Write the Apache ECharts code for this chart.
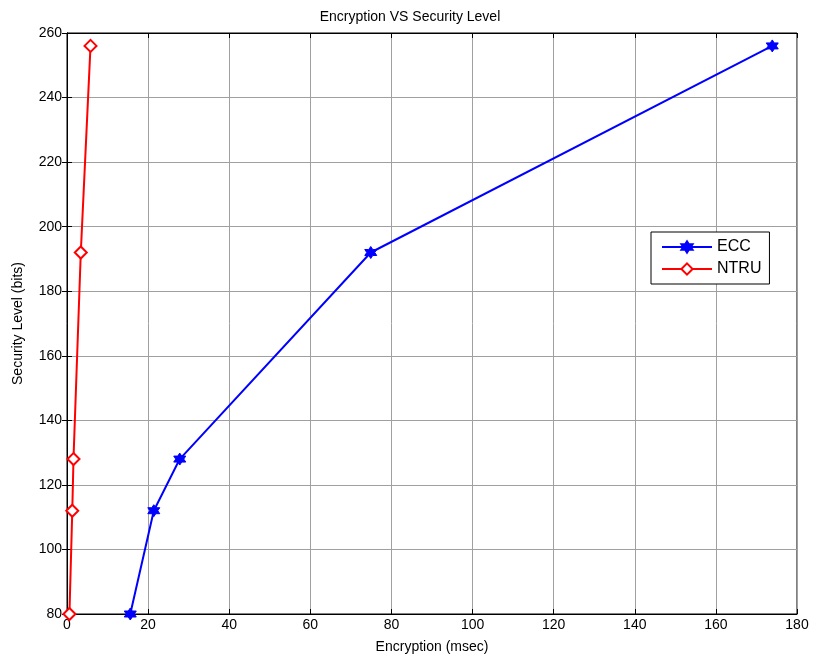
<!DOCTYPE html>
<html>
<head>
<meta charset="utf-8">
<script src="https://cdn.jsdelivr.net/npm/echarts@6/dist/echarts.min.js"></script>
<style>
  html, body { margin: 0; padding: 0; background: #fff; }
  #chart { width: 820px; height: 663px; }
</style>
</head>
<body>
<div id="chart"></div>
<script>
// values
const securityBits = [80, 112, 128, 192, 256];
const eccTime = [15.6, 21.4, 27.8, 74.9, 173.9];
const ntruTime = [0.6, 1.3, 1.6, 3.4, 5.8];
const xTicks = [0, 180, 20];   // min, max, interval
const yTicks = [80, 260, 20];

const hexagram = 'path://M0,-10L2.9,-5L8.66,-5L5.8,0L8.66,5L2.9,5L0,10L-2.9,5L-8.66,5L-5.8,0L-8.66,-5L-2.9,-5Z';

const font = 'Liberation Sans, Arial, sans-serif';
const chart = echarts.init(document.getElementById('chart'));

function pairs(xs, ys) {
  return xs.map((x, i) => [x, ys[i]]);
}

const tickIn = { show: true, inside: true, length: 5, lineStyle: { color: '#000' } };

chart.setOption({
  animation: false,
  backgroundColor: '#fff',
  title: {
    text: 'Encryption VS Security Level',
    left: 'center',
    top: 5,
    textStyle: { fontFamily: font, fontSize: 14, fontWeight: 'normal', color: '#000' }
  },
  grid: {
    left: 67, right: 23, top: 33, bottom: 49,
    show: true, borderColor: '#000', borderWidth: 1
  },
  legend: {
    left: 651, top: 232,
    orient: 'vertical',
    backgroundColor: '#fff',
    borderColor: '#000', borderWidth: 1,
    padding: [7, 8, 7, 10],
    itemGap: 6,
    itemWidth: 50, itemHeight: 14,
    textStyle: { fontFamily: font, fontSize: 16, color: '#000' },
    data: ['ECC', 'NTRU']
  },
  xAxis: [{
    type: 'value',
    min: xTicks[0], max: xTicks[1], interval: xTicks[2],
    name: 'Encryption (msec)',
    nameLocation: 'middle', nameGap: 26,
    nameTextStyle: { fontFamily: font, fontSize: 14, color: '#000' },
    axisLine: { show: true, lineStyle: { color: '#000' } },
    axisTick: tickIn,
    axisLabel: { fontFamily: font, fontSize: 14, color: '#000', margin: 4 },
    splitLine: { show: true, lineStyle: { color: '#a0a0a0', width: 1 } }
  }, {
    type: 'value', position: 'top',
    min: xTicks[0], max: xTicks[1], interval: xTicks[2],
    axisLine: { show: true, lineStyle: { color: '#000' } },
    axisTick: tickIn, axisLabel: { show: false }, splitLine: { show: false }
  }],
  yAxis: [{
    type: 'value',
    min: yTicks[0], max: yTicks[1], interval: yTicks[2],
    name: 'Security Level (bits)',
    nameLocation: 'middle', nameGap: 42,
    nameTextStyle: { fontFamily: font, fontSize: 14, color: '#000' },
    axisLine: { show: true, lineStyle: { color: '#000' } },
    axisTick: tickIn,
    axisLabel: { fontFamily: font, fontSize: 14, color: '#000', margin: 5 },
    splitLine: { show: true, lineStyle: { color: '#a0a0a0', width: 1 } }
  }, {
    type: 'value', position: 'right',
    min: yTicks[0], max: yTicks[1], interval: yTicks[2],
    axisLine: { show: true, lineStyle: { color: '#000' } },
    axisTick: tickIn, axisLabel: { show: false }, splitLine: { show: false }
  }],
  series: [{
    name: 'ECC',
    type: 'line',
    data: pairs(eccTime, securityBits),
    symbol: hexagram,
    symbolSize: 12,
    lineStyle: { color: '#0000ff', width: 2 },
    itemStyle: { color: '#0000ff', borderColor: '#0000ff', borderWidth: 1 },
    z: 3
  }, {
    name: 'NTRU',
    type: 'line',
    data: pairs(ntruTime, securityBits),
    symbol: 'emptyDiamond',
    symbolSize: 12,
    lineStyle: { color: '#ff0000', width: 2 },
    itemStyle: { color: '#ff0000', borderColor: '#ff0000', borderWidth: 2 },
    z: 3
  }]
});
</script>
</body>
</html>
